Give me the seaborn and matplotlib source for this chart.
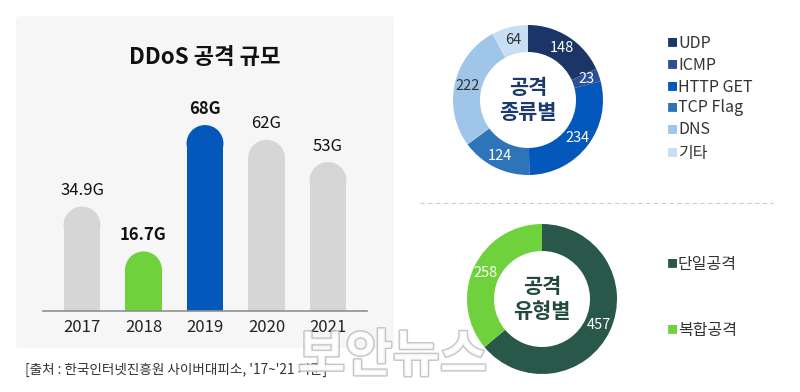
import matplotlib
matplotlib.use("Agg")
import matplotlib.pyplot as plt
import matplotlib.patheffects as pe
from matplotlib.patches import FancyBboxPatch, Ellipse
import seaborn as sns
import pandas as pd
import numpy as np

# bar chart data
years = ["2017", "2018", "2019", "2020", "2021"]
sizes = [34.9, 16.7, 68, 62, 53]
size_labels = ["34.9G", "16.7G", "68G", "62G", "53G"]
bar_colors = ["#d6d6d6", "#6fd13c", "#0457bb", "#d6d6d6", "#d6d6d6"]
bold_bars = [False, True, True, False, False]

# attack type donut
type_names = ["UDP", "ICMP", "HTTP GET", "TCP Flag", "DNS", "기타"]
type_counts = [148, 23, 234, 124, 222, 64]
type_colors = ["#1b3566", "#2c4f98", "#0457bb", "#2e74b8", "#9fc5e8", "#c8def2"]
type_text = ["white", "white", "white", "white", "#333333", "#333333"]

# attack form donut
form_names = ["단일공격", "복합공격"]
form_counts = [457, 258]
form_colors = ["#29584a", "#6fd13c"]

sns.set_theme(style="white")
plt.rcParams['font.family'] = ['Noto Sans CJK KR', 'DejaVu Sans']

W, H = 800, 392
fig = plt.figure(figsize=(W / 100, H / 100), dpi=100)
fig.patch.set_facecolor("white")


def fx(px):
    return px / W


def fy(py):
    return 1 - py / H


# grey panel behind the bars
panel = FancyBboxPatch((fx(16), fy(348)), fx(378), 332 / H,
                       boxstyle="round,pad=0,rounding_size=0.008",
                       transform=fig.transFigure, facecolor="#f6f6f6",
                       edgecolor="none", zorder=-5)
fig.patches.append(panel)

fig.text(fx(205), fy(57), "DDoS 공격 규모", ha="center", va="center",
         fontsize=16, fontweight=900, color="#111111")

# bars: baseline at y=311px, 2.463 px per G
k = 2.463
ymax = 80
bar_w = 0.6
ax = fig.add_axes([fx(43), fy(311), fx(324), ymax * k / H])
df = pd.DataFrame({"year": years, "size": sizes})
sns.barplot(data=df, x="year", y="size", hue="year", palette=bar_colors,
            legend=False, width=bar_w, ax=ax, saturation=1, linewidth=0)
ax.set_xlim(-0.634, 4.634)
ax.set_ylim(0, ymax)
ax.set_facecolor("none")
ax.set_xlabel("")
ax.set_ylabel("")
ax.set_yticks([])
for s in ["top", "left", "right"]:
    ax.spines[s].set_visible(False)
ax.spines["bottom"].set_color("#8f8f8f")
ax.spines["bottom"].set_linewidth(1.2)
ax.tick_params(axis="x", length=0, pad=6, labelsize=12, labelcolor="#222222")

# rounded caps on top of each bar (ellipse in data units = circle on screen)
px_per_unit = 324 / (4.634 + 0.634)
cap_px = bar_w * px_per_unit
cap_h = cap_px / k
for i, v in enumerate(sizes):
    ax.add_patch(Ellipse((i, v), bar_w, cap_h, facecolor=bar_colors[i],
                         edgecolor="none", linewidth=0, clip_on=False, zorder=3))
for i, (v, lab) in enumerate(zip(sizes, size_labels)):
    ax.annotate(lab, (i, v), xytext=(0, (cap_px / 2 + 16) * 0.72),
                textcoords="offset points", ha="center", va="center",
                fontsize=12, color="#111111",
                fontweight="bold" if bold_bars[i] else "normal")

fig.text(fx(25), fy(370), "[출처 : 한국인터넷진흥원 사이버대피소, '17~'21 기준]",
         ha="left", va="center", fontsize=9.8, color="#333333")


def donut(cx, cy, r, counts, colors, text_colors, center_text, center_color):
    a = fig.add_axes([fx(cx - r), fy(cy + r), fx(2 * r), 2 * r / H])
    a.pie(counts, colors=colors, startangle=90, counterclock=False,
          radius=1, wedgeprops=dict(width=0.36, linewidth=0))
    a.set_xlim(-1, 1)
    a.set_ylim(-1, 1)
    a.axis("off")
    total = sum(counts)
    start = 0
    for c, tc in zip(counts, text_colors):
        mid = np.deg2rad(90 - (start + c / 2) / total * 360)
        a.text(0.83 * np.cos(mid), 0.83 * np.sin(mid), str(c), ha="center",
               va="center", fontsize=10.5, color=tc)
        start += c
    a.text(0, 0, center_text, ha="center", va="center", fontsize=15,
           fontweight=900, color=center_color, linespacing=1.2)
    return a


donut(528, 100, 75, type_counts, type_colors, type_text, "공격\n종류별", "#1d3a6e")
donut(542, 299, 75, form_counts, form_colors, ["white", "white"], "공격\n유형별", "#234a3d")

# legends
leg_y1 = [43, 65, 87, 108, 130, 153]
for name, col, y in zip(type_names, type_colors, leg_y1):
    fig.text(fx(667), fy(y), "■", ha="left", va="center", fontsize=8, color=col)
    fig.text(fx(678), fy(y), name, ha="left", va="center", fontsize=11.5, color="#333333")
leg_y2 = [264, 330]
for name, col, y in zip(form_names, form_colors, leg_y2):
    fig.text(fx(667), fy(y), "■", ha="left", va="center", fontsize=8, color=col)
    fig.text(fx(678), fy(y), name, ha="left", va="center", fontsize=11.5, color="#333333")

# dashed separator
fig.add_artist(plt.Line2D([fx(420), fx(773)], [fy(203), fy(203)],
                          transform=fig.transFigure, color="#cccccc",
                          linestyle=(0, (4, 3)), linewidth=0.8))

# watermark
fig.text(fx(298), fy(356), "보안뉴스", ha="left", va="center", fontsize=37,
         fontweight="bold", color="white", alpha=0.85,
         path_effects=[pe.withStroke(linewidth=2, foreground="#bbbbbb")])

fig.savefig("out.png", dpi=100, facecolor="white")
